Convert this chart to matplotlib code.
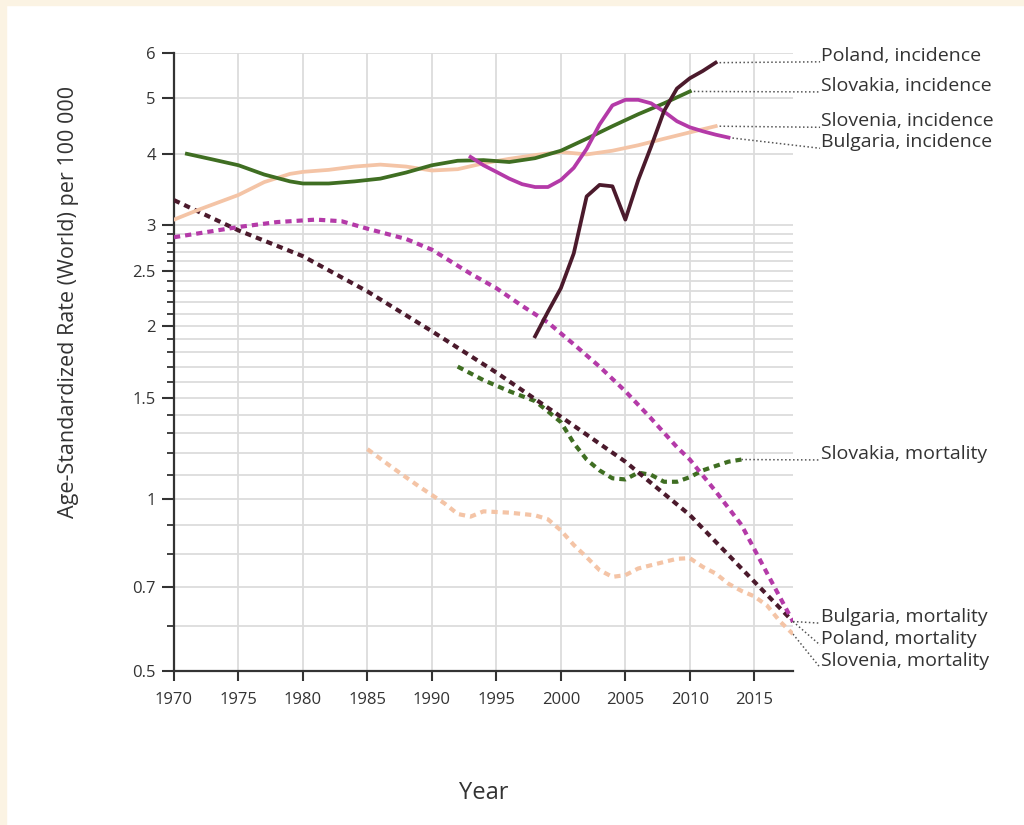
import numpy as np
import matplotlib.pyplot as plt
from matplotlib.ticker import FixedLocator, NullFormatter
from matplotlib.patches import Rectangle

plt.rcParams['font.family'] = ['Open Sans', 'DejaVu Sans']

# incidence (solid lines)
pol_inc_years = list(range(1998, 2013))
pol_inc = [1.92, 2.12, 2.33, 2.68, 3.37, 3.53, 3.51, 3.07, 3.6, 4.12, 4.75, 5.2, 5.42, 5.58, 5.77]

svk_inc_years = [1971, 1973, 1975, 1977, 1979, 1980, 1982, 1984, 1986, 1988, 1990, 1992, 1994,
                 1996, 1998, 2000, 2002, 2004, 2006, 2008, 2010]
svk_inc = [4.0, 3.91, 3.82, 3.68, 3.58, 3.55, 3.55, 3.58, 3.62, 3.71, 3.82, 3.89, 3.9,
           3.87, 3.93, 4.05, 4.25, 4.47, 4.69, 4.9, 5.14]

svn_inc_years = [1970, 1972, 1975, 1977, 1979, 1980, 1982, 1984, 1986, 1988, 1990, 1992, 1994,
                 1996, 1998, 2000, 2002, 2004, 2006, 2008, 2010, 2012]
svn_inc = [3.07, 3.2, 3.39, 3.57, 3.69, 3.72, 3.75, 3.8, 3.83, 3.8, 3.74, 3.76, 3.85,
           3.92, 3.98, 4.03, 3.99, 4.05, 4.14, 4.25, 4.36, 4.47]

bgr_inc_years = list(range(1993, 2014))
bgr_inc = [3.95, 3.82, 3.72, 3.62, 3.54, 3.5, 3.5, 3.6, 3.78, 4.08, 4.5, 4.86, 4.97, 4.97,
           4.9, 4.74, 4.56, 4.45, 4.38, 4.32, 4.27]

# mortality (dotted lines)
pol_mort_years = [1970, 1975, 1980, 1985, 1990, 1995, 2000, 2005, 2010, 2015, 2018]
pol_mort = [3.32, 2.94, 2.65, 2.3, 1.96, 1.66, 1.39, 1.16, 0.936, 0.716, 0.61]

bgr_mort_years = [1970, 1975, 1978, 1981, 1983, 1985, 1988, 1990, 1993, 1995, 1997, 1999, 2001,
                  2003, 2005, 2007, 2009, 2010, 2012, 2014, 2016, 2018]
bgr_mort = [2.86, 2.98, 3.04, 3.07, 3.05, 2.96, 2.84, 2.72, 2.47, 2.33, 2.17, 2.03, 1.86,
            1.7, 1.54, 1.38, 1.23, 1.17, 1.03, 0.9, 0.74, 0.61]

svk_mort_years = [1992, 1994, 1996, 1998, 1999, 2000, 2001, 2002, 2003, 2004, 2005, 2006, 2007,
                  2008, 2009, 2010, 2011, 2012, 2013, 2014]
svk_mort = [1.70, 1.61, 1.54, 1.48, 1.42, 1.36, 1.25, 1.17, 1.12, 1.085, 1.08, 1.11, 1.10,
            1.07, 1.07, 1.09, 1.12, 1.14, 1.16, 1.17]

svn_mort_years = [1985, 1987, 1989, 1991, 1992, 1993, 1994, 1996, 1998, 1999, 2000, 2001, 2002,
                  2003, 2004, 2005, 2006, 2007, 2008, 2009, 2010, 2011, 2012, 2013, 2014, 2015,
                  2016, 2017, 2018]
svn_mort = [1.22, 1.13, 1.05, 0.98, 0.94, 0.93, 0.95, 0.945, 0.935, 0.92, 0.88, 0.83, 0.79,
            0.75, 0.73, 0.735, 0.755, 0.765, 0.775, 0.785, 0.787, 0.76, 0.74, 0.71, 0.69, 0.675,
            0.65, 0.61, 0.58]

c_pol = '#4b1a2c'
c_svk = '#3f6e22'
c_bgr = '#b43aa8'
c_svn = '#f4c4a6'

fig = plt.figure(figsize=(10.24, 8.25), dpi=100)
fig.patches.append(Rectangle((0, 0.994), 1, 0.006, transform=fig.transFigure,
                             color='#fbf3e3', zorder=0))
fig.patches.append(Rectangle((0, 0), 0.006, 1, transform=fig.transFigure,
                             color='#fbf3e3', zorder=0))
ax = fig.add_axes([0.1699, 0.1867, 0.6045, 0.7491])

dot = (0, (1.5, 1.2))
ax.plot(svn_mort_years, svn_mort, color=c_svn, lw=3.0, ls=dot, zorder=3)
ax.plot(svk_mort_years, svk_mort, color=c_svk, lw=3.0, ls=dot, zorder=3)
ax.plot(pol_mort_years, pol_mort, color=c_pol, lw=3.0, ls=dot, zorder=3)
ax.plot(bgr_mort_years, bgr_mort, color=c_bgr, lw=3.0, ls=dot, zorder=3)

ax.plot(svn_inc_years, svn_inc, color=c_svn, lw=2.7, zorder=4)
ax.plot(svk_inc_years, svk_inc, color=c_svk, lw=2.7, zorder=4)
ax.plot(bgr_inc_years, bgr_inc, color=c_bgr, lw=2.7, zorder=4)
ax.plot(pol_inc_years, pol_inc, color=c_pol, lw=2.7, zorder=5)

ax.set_yscale('log')
ax.set_xlim(1970, 2018)
ax.set_ylim(0.5, 6)

major = [0.5, 0.7, 1, 1.5, 2, 2.5, 3, 4, 5, 6]
minor = [0.6, 0.8, 0.9, 1.1, 1.2, 1.3, 1.4, 1.6, 1.7, 1.8, 1.9,
         2.1, 2.2, 2.3, 2.4, 2.6, 2.7, 2.8, 2.9]
ax.yaxis.set_major_locator(FixedLocator(major))
ax.yaxis.set_minor_locator(FixedLocator(minor))
ax.set_yticklabels([str(v) for v in major])
ax.yaxis.set_minor_formatter(NullFormatter())
ax.set_xticks(range(1970, 2016, 5))

ax.grid(which='both', axis='y', color='#dcdcdc', lw=1.3, zorder=0)
ax.grid(which='major', axis='x', color='#dcdcdc', lw=1.3, zorder=0)
ax.set_axisbelow(True)

for s in ['top', 'right']:
    ax.spines[s].set_visible(False)
for s in ['left', 'bottom']:
    ax.spines[s].set_color('#333333')
    ax.spines[s].set_linewidth(1.6)
ax.tick_params(axis='y', which='major', length=9, width=1.5, color='#333333',
               labelsize=12, labelcolor='#333333', pad=4)
ax.tick_params(axis='y', which='minor', length=5, width=1.3, color='#333333')
ax.tick_params(axis='x', length=7, width=1.5, color='#333333',
               labelsize=12, labelcolor='#333333', pad=8)

ax.set_xlabel('Year', fontsize=17, color='#333333')
ax.xaxis.set_label_coords(0.5, -0.178)
ax.set_ylabel('Age-Standardized Rate (World) per 100 000', fontsize=15.5, color='#333333')
ax.yaxis.set_label_coords(-0.1535, 0.597)

# end labels with dotted leaders
lab_x = 2020.1
labels = [
    ('Poland, incidence', pol_inc_years, pol_inc, 5.79),
    ('Slovakia, incidence', svk_inc_years, svk_inc, 5.13),
    ('Slovenia, incidence', svn_inc_years, svn_inc, 4.45),
    ('Bulgaria, incidence', bgr_inc_years, bgr_inc, 4.09),
    ('Slovakia, mortality', svk_mort_years, svk_mort, 1.168),
    ('Bulgaria, mortality', bgr_mort_years, bgr_mort, 0.606),
    ('Poland, mortality', pol_mort_years, pol_mort, 0.555),
    ('Slovenia, mortality', svn_mort_years, svn_mort, 0.507),
]
for txt, xs, ys, ly in labels:
    ax.plot([xs[-1], lab_x], [ys[-1], ly], color='#555555', lw=1.1,
            ls=(0, (1, 1.6)), clip_on=False, zorder=2)
    ax.text(lab_x + 0.1, ly * 1.005, txt, fontsize=14, color='#333333',
            ha='left', va='baseline')

fig.savefig('out.png', dpi=100)
